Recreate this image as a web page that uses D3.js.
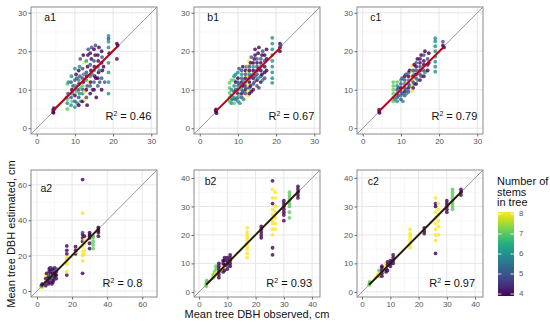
<!DOCTYPE html>
<html lang="en">
<head>
  <meta charset="UTF-8">
  <title>DBH observed vs estimated</title>
  <script src="https://cdn.jsdelivr.net/npm/d3@7"></script>
  <style>
    body { margin: 0; background: #fff; }
    text { font-family: "Liberation Sans", Arial, sans-serif; }
  </style>
</head>
<body>
  <svg id="chart" width="550" height="324"></svg>
  <script>
    // points: [observed, estimated, number of stems]
    const a1Points = [
      [4.3,4.2,4],[4.3,4.8,4],[4.5,5.3,5],[4.4,4.0,4],[4.6,5.0,4],
      [8,5,7],[8,6.5,6],[8,7.5,7],[8.2,9,5],[8,11.5,7],[8.3,12,6],[7.8,8,6],
      [9,6,6],[9,8,5],[9.2,10,4],[9,12,5],[9.1,13.5,6],[9.3,7,7],[9.5,11,5],[9.4,9,6],
      [10,5.5,6],[10,7,5],[10,8.5,4],[10.2,10,5],[10.1,11,6],[10,12.5,5],[10.3,14,4],[10,15.5,6],[10.4,9.5,7],[10.5,13,5],[10.6,6.5,6],
      [11,6,4],[11,8,5],[11.2,9,6],[11,10,5],[11.1,11.5,4],[11,12.5,6],[11.3,13.5,5],[11,15,4],[11.2,16,6],[11.4,18,5],[11.5,10.5,7],[11.6,7,6],
      [12,7,4],[12,9,6],[12.1,10,5],[12,11,7],[12.2,12,4],[12,13,5],[12.3,14,6],[12,15.5,5],[12.4,17,8],[12.5,9.5,8],[12.5,7.5,8],[12.2,19,4],
      [13,8,5],[13,10,4],[13.2,11,5],[13,12.5,6],[13.1,13.5,4],[13,14.5,5],[13.3,16,4],[13,17.5,6],[13.4,19,4],[13.5,20.5,5],[13.2,6,4],[13.6,12,8],
      [14,9,4],[14,11,5],[14.1,12,4],[14,13.5,6],[14.2,15,4],[14,16.5,5],[14.3,18,4],[14,19.5,4],[14.4,21,5],[14.5,14,6],[14.6,10,5],
      [15,10,4],[15,12,5],[15.2,13.5,4],[15,15,6],[15.1,16,4],[15,17.5,5],[15.3,19,4],[15,20.5,4],[15.4,21.5,5],[15.5,13,4],[15.6,8,4],
      [16,11,5],[16,13,4],[16.2,14.5,4],[16,16,5],[16.1,17.5,4],[16,19,4],[16.3,21,4],[16.4,15,6],[16.5,12,5],
      [17,10,4],[17,13,5],[17.2,15,4],[17,17,4],[17.1,18.5,5],[17,20,4],[17.5,16,4],[17.8,12,5],
      [18.8,9,6],[18.8,12,6],[18.8,14.5,6],[18.8,17,6],[18.8,21,6],[18.8,22.5,6],[18.8,24,6],[18.8,23.3,5],[19,19.5,4],
      [21,22,4],[21,18,4],[21.2,21.5,4]
    ];
    const b1Points = [
      [4.3,4.3,4],[4.3,4.9,4],[4.4,3.9,4],[4.2,4.6,4],
      [7.8,7,7],[7.8,8,7],[7.8,9.2,7],[7.8,10.5,7],[7.8,11.8,7],[8.3,6.5,6],[8.3,8.5,6],[8.3,10,6],[8.3,12.5,7],[8.5,7.5,5],
      [9,6.5,7],[9,8,6],[9,9.5,5],[9,11,6],[9,12.5,7],[9,13.5,6],[9.4,7.5,5],[9.4,10,5],[9.4,12,4],[9.4,14,6],
      [10,7,6],[10,8,5],[10,9,4],[10,10,5],[10,11,6],[10,12,5],[10,13,4],[10,14.5,6],[10.3,8.5,7],[10.3,11.5,5],[10.3,15.5,5],[10.5,6.5,6],
      [11,8,5],[11,9,4],[11,10,6],[11,11,5],[11,12,4],[11,13,5],[11,14,6],[11,15,5],[11.3,9.5,5],[11.3,12.5,6],[11.3,16,4],[11.5,7.5,6],[11.5,11,4],
      [12,9,5],[12,10,4],[12,11,5],[12,12,6],[12,13,4],[12,14,5],[12,15,4],[12.3,10.5,5],[12.3,16,5],
      [12.7,8.5,8],[12.7,9.7,8],[12.7,11,8],[12.7,12.3,8],[12.7,13.5,8],[12.7,14.8,8],[12.7,16.2,8],[12.9,17.5,8],
      [13,9,4],[13,10.5,5],[13,12,4],[13,13,5],[13,14,6],[13,15,4],[13,16,5],[13.3,11,4],[13.3,13.5,5],[13.3,17,4],[13.5,18.5,5],[13.5,9.5,4],
      [14,10,4],[14,11.5,5],[14,13,4],[14,14,5],[14,15,4],[14,16,6],[14,17,4],[14.3,12,5],[14.3,18,4],[14.5,13.5,5],[14.5,19,4],[14.5,20.5,4],
      [15,11,5],[15,12.5,4],[15,14,5],[15,15,4],[15,16,5],[15,17,4],[15,18,5],[15.3,13,6],[15.3,19.5,4],[15.5,15.5,4],[15.5,21,4],[15.5,10.5,5],
      [16,12,4],[16,13.5,5],[16,15,4],[16,16,6],[16,17,4],[16,18,5],[16.3,14,4],[16.3,19,4],[16.5,20,5],[16.5,12.5,6],
      [17,13,5],[17,14.5,4],[17,16,4],[17,17.5,5],[17,19,4],[17.5,15,4],[17.5,18,4],[17.5,20.5,4],
      [19,11.8,6],[19,13,6],[19,14.5,6],[19,16,6],[19,17.5,6],[19,19,6],[19,20.5,6],[19,22,6],[19,23.5,6],
      [21,20,4],[21,21,4],[21,22,4],[21.2,21.5,5]
    ];
    const c1Points = [
      [4.3,4.3,4],[4.3,4.8,4],[4.4,4.0,4],
      [8,7,7],[8,8,7],[8,9,7],[8,10,7],[8,11,7],[8,12,7],[8.4,7.5,6],
      [9,7,6],[9,8,5],[9,9,6],[9,10,5],[9,11,6],[9,12,7],[9.4,8.5,5],[9.4,10.5,5],
      [10,7.5,5],[10,8.5,6],[10,9.5,5],[10,10.5,4],[10,11.5,5],[10,12.5,6],[10.3,9,5],[10.3,13,5],[10.5,7,6],
      [11,8.5,5],[11,9.5,4],[11,10.5,5],[11,11.5,6],[11,12.5,5],[11,13.5,4],[11.3,10,5],[11.3,14,5],[11.5,9,6],
      [12,9.5,5],[12,10.5,4],[12,11.5,5],[12,12.5,6],[12,13.5,4],[12,14.5,5],[12.3,11,5],[12.3,15,4],
      [13,9.7,8],[13,11,8],[13,12.3,8],[13,13.5,8],[13,14.8,8],[13,16.3,8],
      [13.2,10.5,4],[13.2,12,5],[13.2,13.5,4],[13.2,15,5],[13.5,16.5,4],[13.5,11.5,5],[13.5,14,6],
      [14,11.5,4],[14,13,5],[14,14,4],[14,15,5],[14,16,4],[14,17,5],[14.3,12.5,6],[14.3,18,4],
      [15,12.5,4],[15,14,5],[15,15,4],[15,16,5],[15,17,4],[15,18,4],[15.3,13.5,5],[15.3,19,4],
      [16,13.5,4],[16,15,5],[16,16.5,4],[16,17.5,4],[16,19,5],[16.3,14.5,6],[16.3,20,4],
      [17,15,4],[17,16.5,4],[17,18,5],[17.3,17,4],[17.3,19.5,4],
      [19,14.7,6],[19,16,6],[19,17.3,6],[19,18.6,6],[19,20,6],[19,21.3,6],[19,22.6,6],[19,23.4,6],
      [21,21.5,4],[21,22.5,5],[21.3,21,4]
    ];
    const a2Points = [
      [2.5,2,8],[2.5,3,4],[3,3.5,5],[3,2.5,7],[3,4,4],
      [5,3,4],[5,5,5],[5,7,4],[5,9,8],[5.5,10,4],
      [6.5,4,4],[6.5,6,5],[6.5,8,4],[7,5,4],[7,7,4],[7,9,5],[7,11,4],[7,12.5,4],[7.5,13,4],
      [8,6,5],[8,8,4],[8,10,4],[8,12,4],[8,13,5],[8.5,4,4],[8.5,9,7],
      [9,5,4],[9,7,5],[9,10,4],[9,12,4],[9.5,6,4],[9.5,11,5],[10,8,4],[10,10,4],[10,13,4],[10.5,9,4],
      [11,11,4],[11,12.5,5],[11,9,4],[11,7,4],
      [17,9,4],[17,11,8],[17,15,8],[17,16,8],[17,18,8],[17,19,8],[17,21,4],[17,23,4],[17,25.5,4],
      [22,21,4],[22,22,8],[22,23,4],[22,25,4],
      [26,10,4],[26,17,8],[26,20,8],[26,22,8],[26,25,8],[26,28,4],[26,30,4],[26,32,4],[26,33,5],[26,44,8],[26,63,4],
      [27,21,8],[27,23,8],[27,27,8],[27,29,8],[27,31,4],
      [30,24,4],[30,27,4],[30,30,4],[30,31,4],[30,32,4],[30,33,4],
      [32,24,7],[32,26,7],[32,28,7],[32,30,7],[32,31,7],
      [35,31,4],[35,33,4],[35,34,4],[35,35,4],[35,36,4]
    ];
    const b2Points = [
      [2.5,2,7],[2.5,2.8,7],[2.7,3.5,7],[2.7,4,7],
      [5,5,7],[5,6,7],[5.5,7,7],[5.5,5.5,8],[6,6.5,8],[6,8,7],[6,9,7],
      [7,5,4],[7,6,4],[7,7,4],[7,8,4],[7,9,4],[7,10,4],
      [8.5,7,4],[8.5,8,8],[8.5,9,8],[8.5,10,4],[8.5,11,4],[9,7.5,4],[9,9.5,4],[9,11,4],[9,12,4],
      [10,8,4],[10,9,5],[10,10,4],[10,11,4],[10,12,4],[11,9,4],[11,10,4],[11,11,4],[11,12,4],[11,13,4],
      [17,12,8],[17,13.5,8],[17,15,8],[17,16,8],[17,17,8],[17,18,8],[17,19,8],[17,20,8],[17,21,8],[17,22.5,8],
      [22,19,4],[22,20,4],[22,21,4],[22,22,4],[22,23,4],
      [26,13,4],[26,15.5,4],[26,20,8],[26,22,8],[26,24,8],[26,25,8],[26,27,8],[26,29,8],[26,31,4],[26,33,8],[26,36,8],[26,39,4],
      [27,22,8],[27,24,8],[27,26,8],[27,28,8],[27,30,8],[27,33,8],[27,35,8],
      [30,25,4],[30,27,4],[30,28,4],[30,29,4],[30,30,4],[30,31,4],[30,32,4],
      [32,26,7],[32,28,7],[32,30,7],[32,31,7],[32,32,7],[32,33,7],[32,34,7],[32,35,7],
      [35,33,4],[35,34,4],[35,35,4],[35,36,4],[35,37,4]
    ];
    const c2Points = [
      [2.5,2.5,7],[2.7,3,7],[2.7,3.5,7],
      [5,5,8],[5.5,6,8],[6,6.5,8],[6,7.5,7],[6,5.5,7],
      [7,5.5,4],[7,6.5,4],[7,7.5,4],[7,8.5,4],[7,9,4],
      [8.5,7,4],[8.5,8,4],[8.5,9,8],[8.5,10,8],[9,7.5,4],[9,9.5,4],[9,10.5,4],
      [10,9,4],[10,10,4],[10,11,4],[11,10,4],[11,11,4],[11,12,4],[11,13,4],
      [17,15.5,8],[17,16.5,8],[17,17.5,8],[17,18.5,8],[17,19.5,8],[17,20.5,8],[17,22,8],
      [22,20.5,4],[22,21.5,4],[22,22.5,4],
      [26,13.5,4],[26,18,8],[26,20,8],[26,22,8],[26,24,8],[26,26,8],[26,28,8],[26,30,4],[26,31,4],[26,33,8],
      [27,20,8],[27,23,8],[27,25,8],[27,27,8],[27,29,8],[27,31,8],
      [30,28,4],[30,29,4],[30,30,4],[30,31,4],[30,32,4],
      [32,29,7],[32,30,7],[32,31,7],[32,32,7],[32,33,7],[32,34,7],[32,35,7],[32,36,7],
      [35,34,4],[35,35,4],[35,36,4]
    ];

    // fitted lines: [x1, y1, x2, y2]
    const a1Fit = [4.3, 4.6, 21.2, 21.3];
    const b1Fit = [4.3, 4.5, 21.2, 21.0];
    const c1Fit = [4.3, 4.4, 21.2, 21.1];
    const a2Fit = [2.5, 2.6, 35.3, 35.4];
    const b2Fit = [2.5, 2.5, 35.5, 35.6];
    const c2Fit = [2.5, 2.5, 35.5, 35.5];

    const panelLabels = ["a1", "b1", "c1", "a2", "b2", "c2"];
    const r2Labels = ["0.46", "0.67", "0.79", "0.8", "0.93", "0.97"];
    const row1Ticks = [0, 10, 20, 30];
    const a2Ticks = [0, 20, 40, 60];
    const row2Ticks = [0, 10, 20, 30, 40];
    const stemTicks = [4, 5, 6, 7, 8];

    const svg = d3.select("#chart");
    const W = 126, H = 127;
    const lefts = [31, 194, 357], tops = [7, 170];
    const color = d3.scaleSequential(d3.interpolateViridis).domain([4, 8]);

    const panels = [
      { pts: a1Points, fit: a1Fit, ticks: row1Ticks, domain: [-1.5, 31.5], col: 0, row: 0, lab: [2, 28.6], red: true },
      { pts: b1Points, fit: b1Fit, ticks: row1Ticks, domain: [-1.5, 31.5], col: 1, row: 0, lab: [2, 28.6], red: true },
      { pts: c1Points, fit: c1Fit, ticks: row1Ticks, domain: [-1.5, 31.5], col: 2, row: 0, lab: [2, 28.6], red: true },
      { pts: a2Points, fit: a2Fit, ticks: a2Ticks, domain: [-3.4, 68.4], col: 0, row: 1, lab: [2, 57.5], red: false },
      { pts: b2Points, fit: b2Fit, ticks: row2Ticks, domain: [-1.8, 42.8], col: 1, row: 1, lab: [2, 38.5], red: false },
      { pts: c2Points, fit: c2Fit, ticks: row2Ticks, domain: [-1.8, 42.8], col: 2, row: 1, lab: [2, 38.5], red: false }
    ];

    panels.forEach((p, i) => {
      const g = svg.append("g").attr("transform", `translate(${lefts[p.col]},${tops[p.row]})`);
      const x = d3.scaleLinear().domain(p.domain).range([0, W]);
      const y = d3.scaleLinear().domain(p.domain).range([H, 0]);
      const step = p.ticks[1] - p.ticks[0];
      const minor = p.ticks.map(t => t + step / 2).filter(t => t < p.domain[1]);

      // grid
      g.selectAll(".minx").data(minor).enter().append("line")
        .attr("x1", d => x(d)).attr("x2", d => x(d)).attr("y1", 0).attr("y2", H)
        .attr("stroke", "#f3f3f3").attr("stroke-width", 0.6);
      g.selectAll(".miny").data(minor).enter().append("line")
        .attr("y1", d => y(d)).attr("y2", d => y(d)).attr("x1", 0).attr("x2", W)
        .attr("stroke", "#f3f3f3").attr("stroke-width", 0.6);
      g.selectAll(".majx").data(p.ticks).enter().append("line")
        .attr("x1", d => x(d)).attr("x2", d => x(d)).attr("y1", 0).attr("y2", H)
        .attr("stroke", "#e6e6e6").attr("stroke-width", 1);
      g.selectAll(".majy").data(p.ticks).enter().append("line")
        .attr("y1", d => y(d)).attr("y2", d => y(d)).attr("x1", 0).attr("x2", W)
        .attr("stroke", "#e6e6e6").attr("stroke-width", 1);

      // 1:1 line
      g.append("line")
        .attr("x1", x(p.domain[0])).attr("y1", y(p.domain[0]))
        .attr("x2", x(p.domain[1])).attr("y2", y(p.domain[1]))
        .attr("stroke", "#8c8c8c").attr("stroke-width", 0.9);

      // points
      g.selectAll("circle").data(p.pts).enter().append("circle")
        .attr("cx", d => x(d[0])).attr("cy", d => y(d[1])).attr("r", 1.9)
        .attr("fill", d => color(d[2])).attr("opacity", 0.8);

      // fit line
      g.append("line")
        .attr("x1", x(p.fit[0])).attr("y1", y(p.fit[1]))
        .attr("x2", x(p.fit[2])).attr("y2", y(p.fit[3]))
        .attr("stroke", p.red ? "#c20017" : "#2b1d05").attr("stroke-width", 2);

      // border
      g.append("rect").attr("width", W).attr("height", H)
        .attr("fill", "none").attr("stroke", "#8a8a8a").attr("stroke-width", 1);

      // axes
      const ax = g.append("g").attr("transform", `translate(0,${H})`)
        .call(d3.axisBottom(x).tickValues(p.ticks).tickSize(2.5).tickPadding(1.5));
      const ay = g.append("g")
        .call(d3.axisLeft(y).tickValues(p.ticks).tickSize(2.5).tickPadding(1.5));
      [ax, ay].forEach(a => {
        a.select(".domain").remove();
        a.selectAll("line").attr("stroke", "#666");
        a.selectAll("text").attr("fill", "#555").attr("font-size", 8)
          .attr("font-family", "Liberation Sans, Arial, sans-serif");
      });

      // panel label
      g.append("text").attr("x", x(p.lab[0])).attr("y", y(p.lab[1]))
        .attr("dominant-baseline", "middle").attr("font-size", 10.5).attr("fill", "#111")
        .text(panelLabels[i]);

      // R2
      const r2 = g.append("text")
        .attr("x", x(p.ticks[p.ticks.length - 1]))
        .attr("y", p.row === 0 ? H - 14 : H - 10)
        .attr("text-anchor", "end").attr("font-size", 11).attr("fill", "#111");
      r2.append("tspan").text("R");
      r2.append("tspan").attr("dy", -4.5).attr("font-size", 7).text("2");
      r2.append("tspan").attr("dy", 4.5).text(" = " + r2Labels[i]);
    });

    // axis titles
    svg.append("text")
      .attr("transform", "translate(12,234) rotate(-90)")
      .attr("text-anchor", "middle").attr("dominant-baseline", "middle")
      .attr("font-size", 11).attr("fill", "#111")
      .text("Mean tree DBH estimated, cm");
    svg.append("text")
      .attr("x", 257).attr("y", 318)
      .attr("text-anchor", "middle").attr("font-size", 11).attr("fill", "#111")
      .text("Mean tree DBH observed, cm");

    // legend
    const legTitle = ["Number of", "stems", "in tree"];
    svg.selectAll(".legtitle").data(legTitle).enter().append("text")
      .attr("x", 497).attr("y", (d, i) => 185 + i * 10.5)
      .attr("font-size", 11).attr("fill", "#111").text(d => d);

    const grad = svg.append("defs").append("linearGradient")
      .attr("id", "viridisGrad").attr("x1", 0).attr("x2", 0).attr("y1", 1).attr("y2", 0);
    d3.range(0, 1.0001, 0.1).forEach(t => {
      grad.append("stop").attr("offset", t).attr("stop-color", d3.interpolateViridis(t));
    });
    const ls = d3.scaleLinear().domain([4, 8]).range([294, 214]);
    svg.append("rect").attr("x", 498).attr("y", ls(8) - 2).attr("width", 16)
      .attr("height", ls(4) - ls(8) + 4).attr("fill", "url(#viridisGrad)");
    svg.selectAll(".legtick").data(stemTicks).enter().append("g").each(function (d) {
      const gg = d3.select(this);
      gg.append("line").attr("x1", 498).attr("x2", 501.5).attr("y1", ls(d)).attr("y2", ls(d))
        .attr("stroke", "#fff").attr("stroke-width", 0.8);
      gg.append("line").attr("x1", 510.5).attr("x2", 514).attr("y1", ls(d)).attr("y2", ls(d))
        .attr("stroke", "#fff").attr("stroke-width", 0.8);
      gg.append("text").attr("x", 519).attr("y", ls(d)).attr("dominant-baseline", "middle")
        .attr("font-size", 8).attr("fill", "#555").text(d);
    });
  </script>
</body>
</html>
